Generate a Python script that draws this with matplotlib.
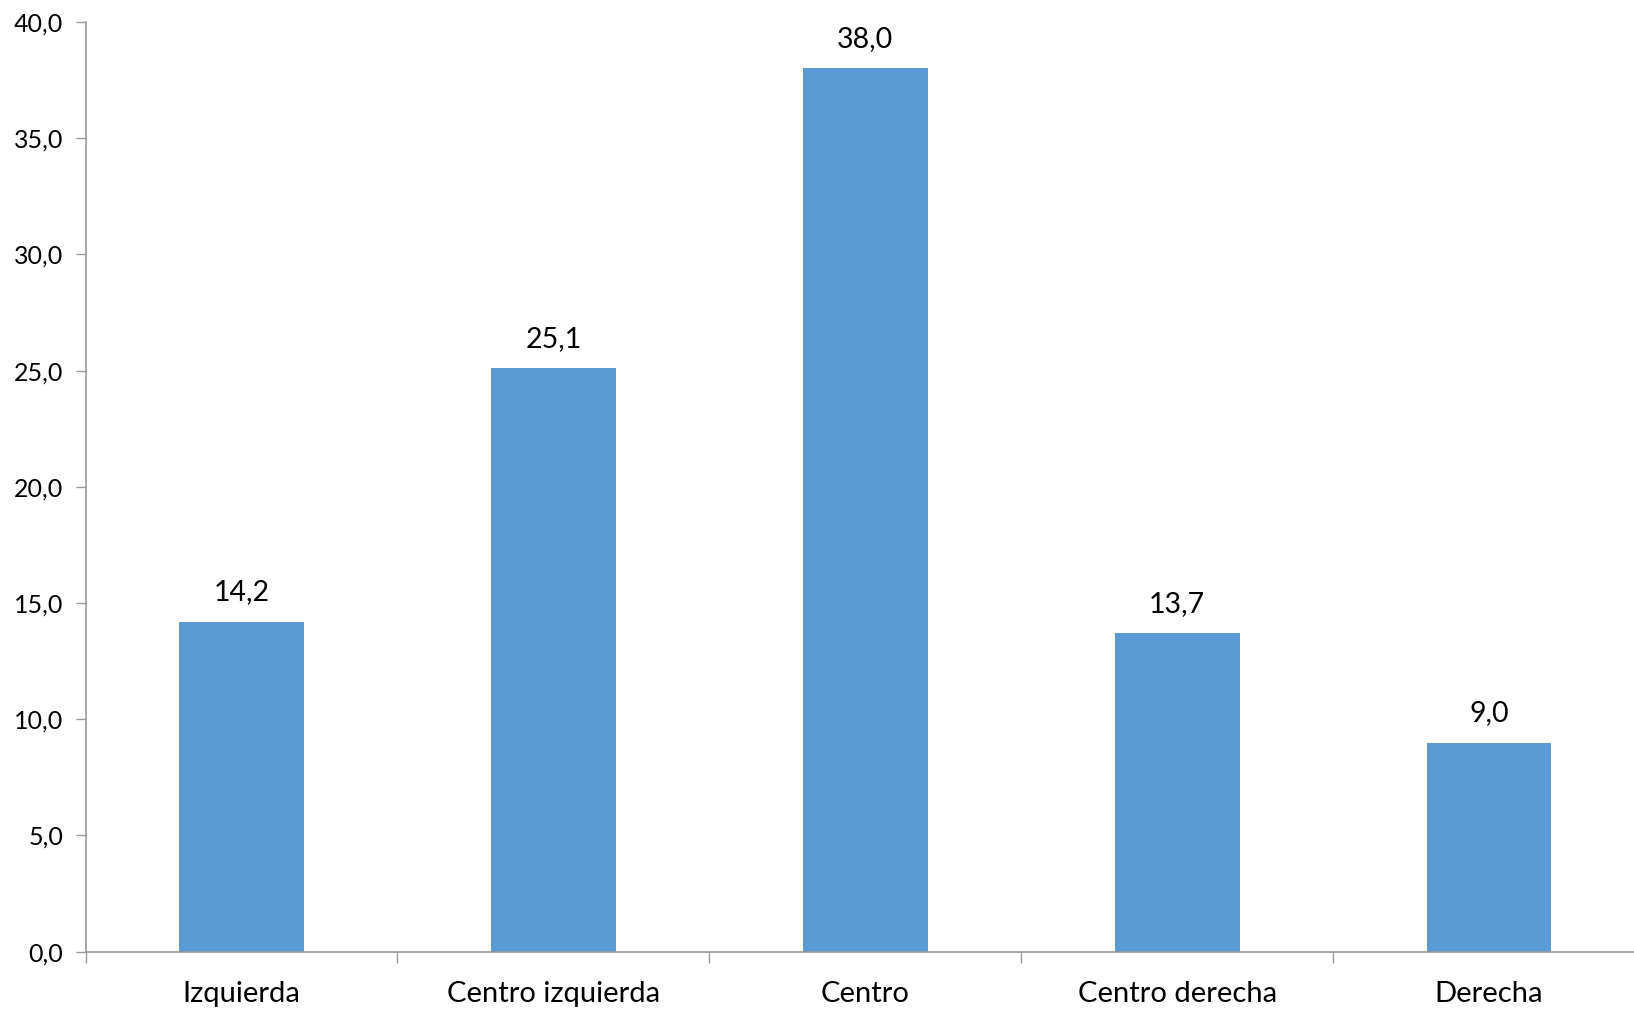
import matplotlib
matplotlib.use("Agg")
import matplotlib.pyplot as plt
from matplotlib.ticker import FixedLocator, FuncFormatter
import numpy as np

categories = ["Izquierda", "Centro izquierda", "Centro", "Centro derecha", "Derecha"]
values = [14.2, 25.1, 38.0, 13.7, 9.0]
yticks = [0, 5, 10, 15, 20, 25, 30, 35, 40]

plt.rcParams['font.family'] = ['Lato', 'DejaVu Sans']

fig = plt.figure(figsize=(16.34, 10.09), dpi=100)
W, H = 1634, 1009
left, right, bottom, top = 85.5, 1645.0, 951.7, 22.0
ax = fig.add_axes([left / W, (H - bottom) / H, (right - left) / W, (bottom - top) / H])

x = np.arange(len(categories))
bars = ax.bar(x, values, width=0.4, color="#5B9BD5", zorder=2)

def fmt(v):
    return f"{v:.1f}".replace(".", ",")

for xi, v in zip(x, values):
    ax.annotate(fmt(v), (xi, v), xytext=(0, 12), textcoords="offset points",
                ha="center", va="bottom", fontsize=20.5, color="black")

ax.set_xlim(-0.5, len(categories) - 0.5)
ax.set_ylim(0, 40)
ax.set_yticks(yticks)
ax.yaxis.set_major_formatter(FuncFormatter(lambda v, p: fmt(v)))
ax.tick_params(axis="y", labelsize=18, length=7, width=1, color="#999999", pad=9)

ax.set_xticks(x)
ax.set_xticklabels(categories, fontsize=21)
ax.xaxis.set_minor_locator(FixedLocator(np.arange(-0.5, len(categories), 1.0)))
ax.tick_params(axis="x", which="major", length=0, pad=21)
ax.tick_params(axis="x", which="minor", length=8, width=1, color="#999999")

for s in ["top", "right"]:
    ax.spines[s].set_visible(False)
for s in ["left", "bottom"]:
    ax.spines[s].set_color("#999999")
    ax.spines[s].set_linewidth(1.2)

fig.savefig("out.png", dpi=100)
